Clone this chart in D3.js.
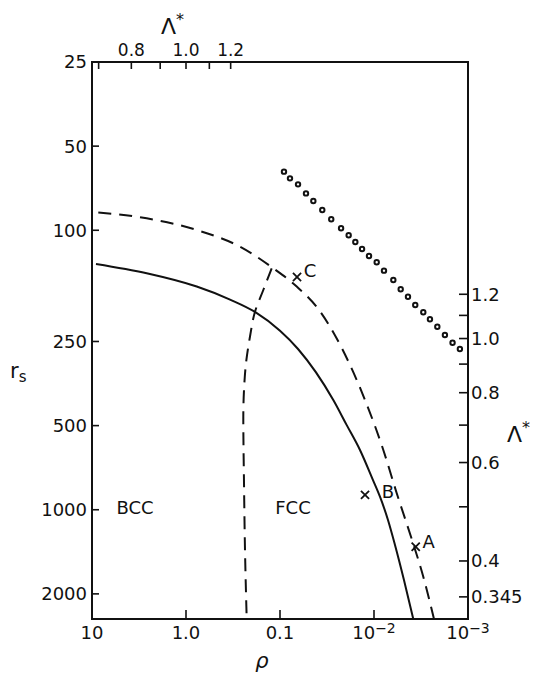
<!DOCTYPE html>
<html>
<head>
<meta charset="utf-8">
<script src="https://cdn.jsdelivr.net/npm/d3@7"></script>
<style>
	body { margin: 0; background: #fff; }
	text { font-family: "DejaVu Sans", sans-serif; fill: #111; }
</style>
</head>
<body>
<svg id="chart" width="533" height="675"></svg>
<script>
// axis ticks
const rsTicks = [25, 50, 100, 250, 500, 1000, 2000];
const rhoTicks = [10, 1, 0.1, 0.01, 0.001];
const rhoLabels = ['10', '1.0', '0.1', '10^-2', '10^-3'];
const lamTopTicks = [0.7, 0.8, 0.9, 1.0, 1.1, 1.2];
const lamTopLabels = ['', '0.8', '', '1.0', '', '1.2'];
const lamRightTicks = [1.2, 1.1, 1.0, 0.9, 0.8, 0.7, 0.6, 0.5, 0.4, 0.345];
const lamRightLabels = ['1.2', '', '1.0', '', '0.8', '', '0.6', '', '0.4', '0.345'];

// solid curve
const solidRho = [9.07, 2.62, 0.769, 0.340, 0.1845, 0.100, 0.0643, 0.0271, 0.0195, 0.0141, 0.01025, 0.00864, 0.00710, 0.00598, 0.00480, 0.00382];
const solidRs = [132, 142.5, 159, 177, 196, 229, 266, 405, 498, 611, 783, 898, 1088, 1337, 1784, 2460];

// dashed curve
const dashRho = [8.57, 2.62, 0.769, 0.266, 0.118, 0.0664, 0.0375, 0.0224, 0.01246, 0.00796, 0.00573, 0.00394, 0.00299, 0.00230];
const dashRs = [86.4, 90.6, 99.8, 114.5, 136.8, 159, 195, 261, 405, 611, 873, 1283, 1736, 2460];

// bcc / fcc boundary
const bfRho = [0.1226, 0.1505, 0.1845, 0.2085, 0.2300, 0.2415, 0.2457, 0.2415, 0.2357, 0.2261];
const bfRs = [136.8, 163.6, 195.6, 240, 299, 373, 465, 804, 1393, 2460];

// dotted points
const dotRho = [0.0907, 0.0783, 0.0643, 0.0529, 0.0442, 0.0355, 0.0285, 0.0224, 0.0186, 0.0158, 0.0134, 0.0113,
	0.00936, 0.00783, 0.00623, 0.00520, 0.00435, 0.00364, 0.00299, 0.00254, 0.00212, 0.00176, 0.00146, 0.00122];
const dotRs = [61.7, 65.2, 68.5, 73.8, 78.6, 84.6, 91.3, 98.4, 104.2, 110.2, 116.7, 123.6,
	130.2, 139.5, 150.6, 162.6, 172.9, 185.1, 196.6, 208.2, 221.3, 237.0, 252.5, 266.0];

// marked points
const markNames = ['C', 'B', 'A'];
const markRho = [0.0659, 0.01246, 0.00360];
const markRs = [147, 885, 1356];

// phase labels
const phaseNames = ['BCC', 'FCC'];
const phaseRho = [3.49, 0.0727];
const phaseRs = [985, 985];

const svg = d3.select('#chart'),
	margin = {top: 62, right: 65, bottom: 56, left: 92},
	width = +svg.attr('width') - margin.left - margin.right,
	height = +svg.attr('height') - margin.top - margin.bottom,
	g = svg.append('g').attr('transform', `translate(${margin.left}, ${margin.top})`);

const x = d3.scaleLog().domain([10, 0.001]).range([0, width]),
	y = d3.scaleLog().domain([25, 2460]).range([0, height]);

// Lambda* relations
const lamToRho = l => Math.pow(l, -6);
const lamToRs = l => 244 / (l * l);

const zip = (a, b) => a.map((v, i) => [v, b[i]]);
const line = d3.line()
	.x(d => x(d[0]))
	.y(d => y(d[1]))
	.curve(d3.curveMonotoneX);
const lineV = d3.line()
	.x(d => x(d[0]))
	.y(d => y(d[1]))
	.curve(d3.curveMonotoneY);

// frame
g.append('rect')
	.attr('width', width)
	.attr('height', height)
	.attr('fill', 'none')
	.attr('stroke', '#111')
	.attr('stroke-width', 2);

// left axis
const leftAxis = g.append('g');
leftAxis.selectAll('line').data(rsTicks.slice(1)).enter().append('line')
	.attr('x1', 0).attr('x2', 7)
	.attr('y1', d => y(d)).attr('y2', d => y(d))
	.attr('stroke', '#111').attr('stroke-width', 1.6);
leftAxis.selectAll('text').data(rsTicks).enter().append('text')
	.attr('x', -5).attr('y', d => y(d))
	.attr('dy', '0.36em')
	.attr('text-anchor', 'end')
	.attr('font-size', 18)
	.text(d => d);

// bottom axis
const bottomAxis = g.append('g').attr('transform', `translate(0, ${height})`);
bottomAxis.selectAll('line').data(rhoTicks.slice(1, -1)).enter().append('line')
	.attr('x1', d => x(d)).attr('x2', d => x(d))
	.attr('y1', 0).attr('y2', -9)
	.attr('stroke', '#111').attr('stroke-width', 1.6);
bottomAxis.selectAll('text').data(rhoTicks).enter().append('text')
	.attr('x', d => x(d)).attr('y', 20)
	.attr('text-anchor', 'middle')
	.attr('font-size', 18)
	.each(function(d, i) {
		let parts = rhoLabels[i].split('^'),
			t = d3.select(this);
		t.append('tspan').text(parts[0]);
		if (parts[1]) {
			t.append('tspan')
				.attr('dy', '-0.45em')
				.attr('font-size', 14)
				.text(parts[1].replace('-', '\u2212'));
		}
	});

// top axis
const topAxis = g.append('g');
topAxis.selectAll('line').data(lamTopTicks).enter().append('line')
	.attr('x1', d => x(lamToRho(d))).attr('x2', d => x(lamToRho(d)))
	.attr('y1', 0).attr('y2', 7)
	.attr('stroke', '#111').attr('stroke-width', 1.6);
topAxis.selectAll('text').data(lamTopTicks).enter().append('text')
	.attr('x', d => x(lamToRho(d))).attr('y', -6)
	.attr('text-anchor', 'middle')
	.attr('font-size', 17)
	.text((d, i) => lamTopLabels[i]);

// right axis
const rightAxis = g.append('g').attr('transform', `translate(${width}, 0)`);
rightAxis.selectAll('line').data(lamRightTicks).enter().append('line')
	.attr('x1', 0).attr('x2', -9)
	.attr('y1', d => y(lamToRs(d))).attr('y2', d => y(lamToRs(d)))
	.attr('stroke', '#111').attr('stroke-width', 1.6);
rightAxis.selectAll('text').data(lamRightTicks).enter().append('text')
	.attr('x', 3).attr('y', d => y(lamToRs(d)))
	.attr('dy', '0.36em')
	.attr('font-size', 18)
	.text((d, i) => lamRightLabels[i]);

// axis titles
svg.append('text')
	.attr('x', 10).attr('y', 378)
	.attr('font-size', 21)
	.html('r<tspan dy="4" font-size="15">s</tspan>');
svg.append('text')
	.attr('x', 262).attr('y', 668)
	.attr('text-anchor', 'middle')
	.attr('font-family', '"DejaVu Serif", serif')
	.attr('font-style', 'italic')
	.attr('font-size', 21)
	.text('\u03c1');
[[161, 34], [507, 442]].forEach(p => {
	svg.append('text')
		.attr('x', p[0]).attr('y', p[1])
		.attr('font-family', '"DejaVu Serif", serif')
		.attr('font-size', 22)
		.html('\u039b<tspan dy="-9" font-size="16" font-family="DejaVu Sans">*</tspan>');
});

// curves
g.append('path')
	.datum(zip(solidRho, solidRs))
	.attr('fill', 'none')
	.attr('stroke', '#111')
	.attr('stroke-width', 2)
	.attr('d', line);

g.append('path')
	.datum(zip(dashRho, dashRs))
	.attr('fill', 'none')
	.attr('stroke', '#111')
	.attr('stroke-width', 2)
	.attr('stroke-dasharray', '13,8')
	.attr('d', line);

g.append('path')
	.datum(zip(bfRho, bfRs))
	.attr('fill', 'none')
	.attr('stroke', '#111')
	.attr('stroke-width', 2)
	.attr('stroke-dasharray', '13,8')
	.attr('d', lineV);

g.selectAll('circle.dot')
	.data(zip(dotRho, dotRs))
	.enter()
	.append('circle')
	.attr('class', 'dot')
	.attr('cx', d => x(d[0]))
	.attr('cy', d => y(d[1]))
	.attr('r', 2.2)
	.attr('fill', '#fff')
	.attr('stroke', '#111')
	.attr('stroke-width', 2);

// marked points
const labelOffset = {C: [13, -7], B: [23, -3], A: [13, -5]};
const marks = g.selectAll('g.mark')
	.data(markNames.map((n, i) => ({name: n, rho: markRho[i], rs: markRs[i]})))
	.enter()
	.append('g')
	.attr('class', 'mark')
	.attr('transform', d => `translate(${x(d.rho)}, ${y(d.rs)})`);
marks.append('path')
	.attr('d', d3.symbol(d3.symbolTimes).size(45))
	.attr('fill', 'none')
	.attr('stroke', '#111')
	.attr('stroke-width', 1.8);
marks.append('text')
	.attr('x', d => labelOffset[d.name][0])
	.attr('y', d => labelOffset[d.name][1])
	.attr('dy', '0.36em')
	.attr('text-anchor', 'middle')
	.attr('font-size', 18)
	.text(d => d.name);

g.selectAll('text.phase')
	.data(phaseNames)
	.enter()
	.append('text')
	.attr('class', 'phase')
	.attr('x', (d, i) => x(phaseRho[i]))
	.attr('y', (d, i) => y(phaseRs[i]))
	.attr('dy', '0.36em')
	.attr('text-anchor', 'middle')
	.attr('font-size', 18)
	.text(d => d);
</script>
</body>
</html>
